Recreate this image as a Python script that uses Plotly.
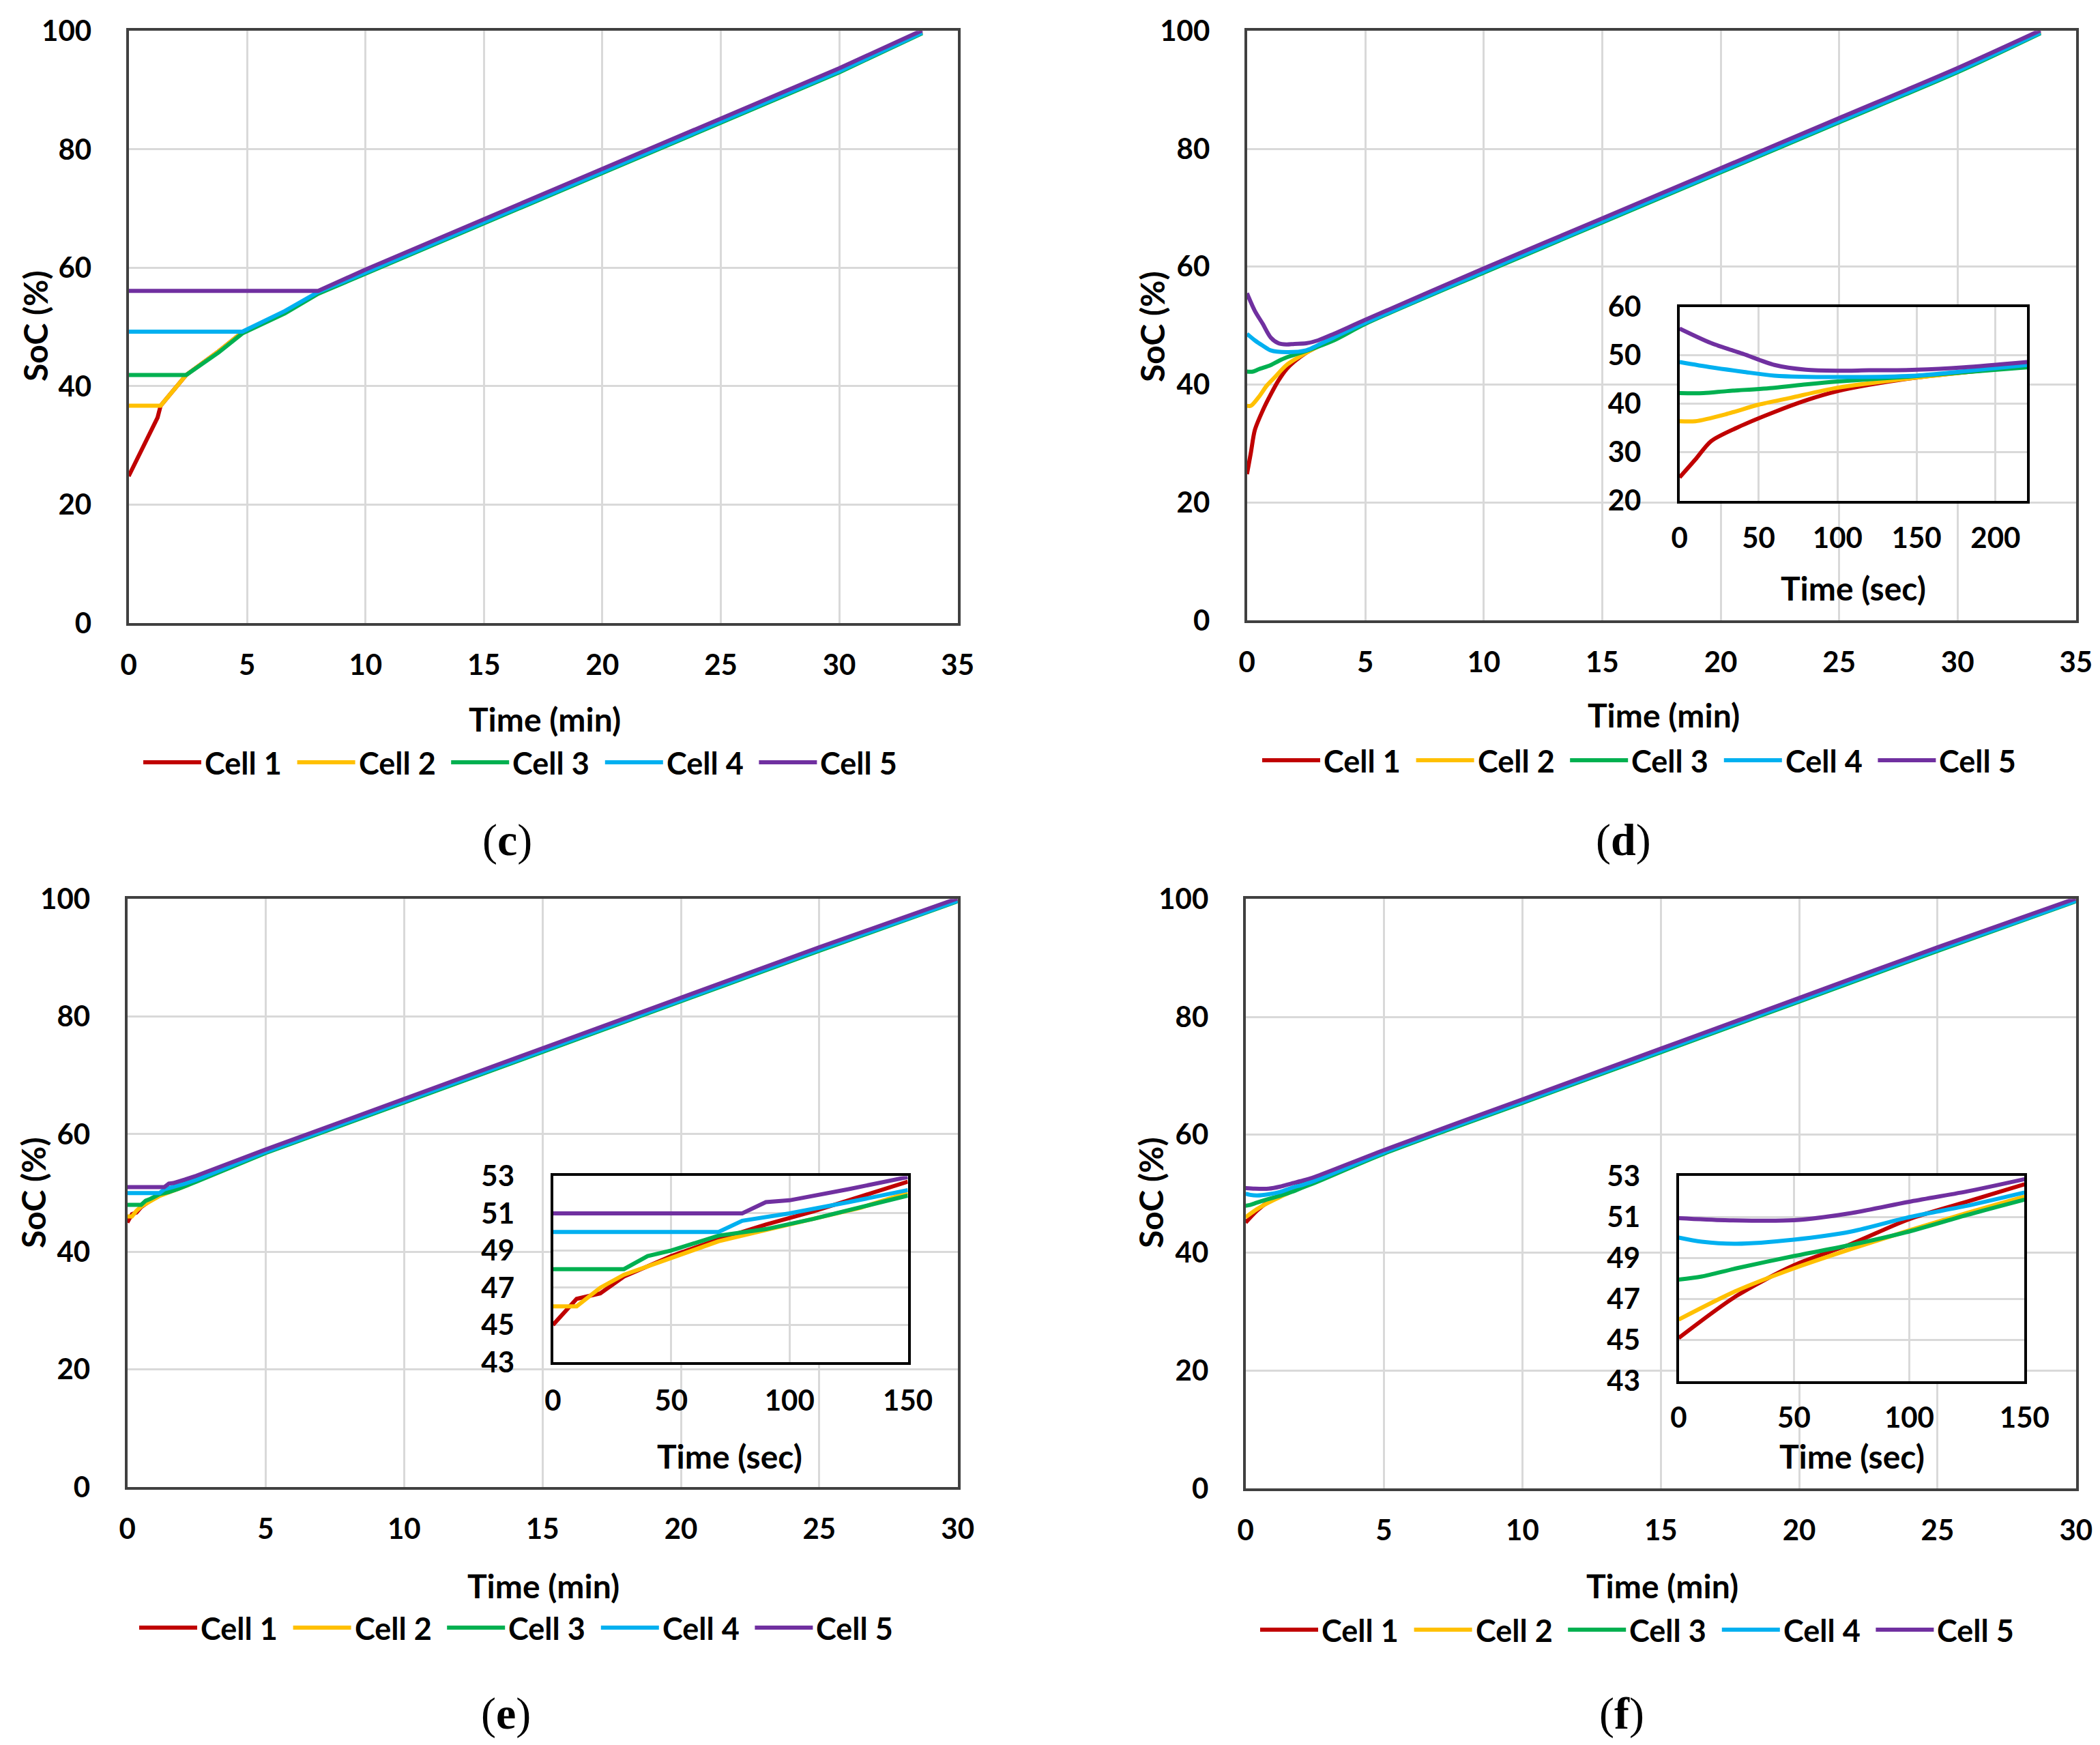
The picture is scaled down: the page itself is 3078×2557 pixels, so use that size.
import plotly.graph_objects as go

CELLS = ["Cell 1", "Cell 2", "Cell 3", "Cell 4", "Cell 5"]
COLORS = ["#C00000", "#FFC000", "#00B050", "#00B0F0", "#7030A0"]

# ---------------- (c) main: time (min) / SoC (%) ----------------
C_T = [
    [0, 1.22, 1.35, 2.43, 3.8, 4.8, 6.6, 8.0],
    [0, 1.35, 2.43, 3.8, 4.8, 6.6, 8.0],
    [0, 2.43, 3.8, 4.8, 6.6, 8.0],
    [0, 4.8, 6.6, 8.0],
    [0, 8.0],
]
C_Y = [
    [24.8, 34.7, 36.7, 41.9, 45.9, 49.1, 52.5, 55.8],
    [36.7, 36.7, 41.9, 45.9, 49.1, 52.5, 55.8],
    [41.9, 41.9, 45.7, 48.9, 52.3, 55.6],
    [49.2, 49.2, 52.7, 55.9],
    [56.1, 56.1],
]
C_TAIL_T = [10, 15, 20, 25, 30, 33.5]
C_TAIL_Y = [
    [59.3, 67.8, 76.3, 84.8, 93.3, 99.8],
    [59.3, 67.8, 76.3, 84.8, 93.3, 99.8],
    [59.0, 67.5, 76.0, 84.5, 93.0, 99.6],
    [59.2, 67.7, 76.2, 84.7, 93.2, 99.7],
    [59.7, 68.2, 76.7, 85.2, 93.7, 100.1],
]

# ---------------- (d) inset: time (sec) ----------------
D_IN_T = [
    [0, 10, 20, 40, 60, 80, 100, 120, 150, 220],
    [0, 10, 30, 50, 70, 100, 150, 220],
    [0, 15, 30, 60, 80, 100, 150, 220],
    [0, 20, 40, 60, 100, 150, 180, 220],
    [0, 20, 40, 60, 80, 100, 120, 150, 180, 220],
]
D_IN_Y = [
    [24.8, 28.5, 32.3, 35.6, 38.3, 40.7, 42.6, 43.9, 45.4, 47.8],
    [36.4, 36.4, 37.9, 39.8, 41.2, 43.3, 45.4, 47.8],
    [42.2, 42.2, 42.6, 43.3, 44.0, 44.6, 45.7, 47.5],
    [48.6, 47.5, 46.6, 45.8, 45.5, 45.8, 46.7, 48.0],
    [55.5, 52.5, 50.3, 48.0, 47.0, 46.8, 46.9, 47.0, 47.5, 48.6],
]
D_TAIL_T = [5, 10, 15, 20, 25, 30, 33.5]
D_TAIL_Y = [
    [50.5, 59.3, 67.8, 76.3, 84.8, 93.3, 99.8],
    [50.5, 59.3, 67.8, 76.3, 84.8, 93.3, 99.8],
    [50.3, 59.0, 67.5, 76.0, 84.5, 93.0, 99.6],
    [50.5, 59.2, 67.7, 76.2, 84.7, 93.2, 99.7],
    [51.0, 59.7, 68.2, 76.7, 85.2, 93.7, 100.1],
]

# ---------------- (e) inset: time (sec) ----------------
E_IN_T = [
    [0, 10, 20, 30, 50, 70, 90, 110, 130, 150],
    [0, 10, 20, 30, 50, 70, 90, 110, 130, 150],
    [0, 30, 40, 50, 70, 90, 110, 130, 150],
    [0, 70, 80, 90, 100, 125, 150],
    [0, 80, 90, 100, 125, 150],
]
E_IN_Y = [
    [45.0, 46.4, 46.7, 47.6, 48.7, 49.6, 50.4, 51.1, 51.9, 52.7],
    [46.0, 46.0, 47.0, 47.7, 48.6, 49.5, 50.1, 50.7, 51.3, 52.1],
    [48.0, 48.0, 48.7, 49.0, 49.8, 50.15, 50.7, 51.3, 51.95],
    [50.0, 50.0, 50.6, 50.8, 51.0, 51.6, 52.25],
    [51.0, 51.0, 51.6, 51.7, 52.3, 52.95],
]
E_TAIL_T = [5, 10, 15, 20, 25, 30]
E_TAIL_Y = [
    [57.0, 65.6, 74.2, 82.8, 91.4, 99.8],
    [57.0, 65.6, 74.2, 82.8, 91.4, 99.8],
    [56.8, 65.4, 74.0, 82.6, 91.2, 99.6],
    [57.0, 65.6, 74.2, 82.8, 91.4, 99.7],
    [57.4, 66.0, 74.6, 83.2, 91.8, 100.1],
]

# ---------------- (f) inset: time (sec) ----------------
F_IN_T = [
    [0, 25, 50, 75, 100, 125, 150],
    [0, 25, 50, 75, 100, 125, 150],
    [0, 10, 25, 50, 75, 100, 125, 150],
    [0, 10, 25, 50, 75, 100, 125, 150],
    [0, 20, 50, 75, 100, 125, 150],
]
F_IN_Y = [
    [45.1, 47.15, 48.65, 49.7, 50.9, 51.75, 52.6],
    [46.0, 47.4, 48.5, 49.45, 50.35, 51.2, 52.0],
    [47.95, 48.1, 48.5, 49.1, 49.65, 50.3, 51.1, 51.85],
    [50.0, 49.8, 49.7, 49.9, 50.3, 51.0, 51.55, 52.2],
    [50.95, 50.85, 50.85, 51.2, 51.75, 52.25, 52.85],
]
F_TAIL_T = [5, 10, 15, 20, 25, 30]
F_TAIL_Y = [
    [57.0, 65.6, 74.2, 82.8, 91.4, 99.8],
    [57.0, 65.6, 74.2, 82.8, 91.4, 99.8],
    [56.8, 65.4, 74.0, 82.6, 91.2, 99.6],
    [57.0, 65.6, 74.2, 82.8, 91.4, 99.7],
    [57.4, 66.0, 74.6, 83.2, 91.8, 100.1],
]

MAIN_X_MAX = {"c": 35, "d": 35, "e": 30, "f": 30}
Y_MAIN_TICKS = [0, 20, 40, 60, 80, 100]
D_IN_YTICKS = [20, 30, 40, 50, 60]
EF_IN_YTICKS = [43, 45, 47, 49, 51, 53]

# ---------------- layout geometry (pixels of the 3078 x 2557 page) ----------------
W, H = 3078, 2557
FONT = "Lato"
GRID = "#D9D9D9"
LW = 6


def fx(p):
    return p / W


def fy(p):
    return 1 - p / H


MAIN_BOX = {
    "c": ((180.6, 1395.7), (37.3, 904.9)),
    "d": ((1819.7, 3034.8), (37.3, 901.0)),
    "e": ((178.6, 1395.7), (1309.3, 2171.0)),
    "f": ((1817.7, 3034.8), (1309.3, 2173.0)),
}
INSET_BOX = {
    "d": ((2453.8, 2963.2), (441.5, 725.7)),
    "e": ((802.5, 1322.6), (1715.4, 1988.0)),
    "f": ((2452.5, 2959.4), (1715.4, 2015.7)),
}
INSET_FRAME = {
    "d": ((2321.7, 3027.0), (391.0, 891.0)),
    "e": ((670.4, 1387.0), (1664.0, 2163.0)),
    "f": ((2318.5, 3025.0), (1665.5, 2163.0)),
}
MAIN_AX = {"c": 1, "d": 2, "e": 3, "f": 4}
FRAME_AX = {"d": 5, "e": 6, "f": 7}
INSET_AX = {"d": 8, "e": 9, "f": 10}
MAIN_XSTAND = {"c": 22, "d": 22, "e": 22, "f": 22}
INSET_XSTAND = {"d": 15, "e": 17, "f": 14}

fig = go.Figure()


def add_lines(ax, ts, ys, shape="linear"):
    for i in range(5):
        fig.add_trace(go.Scatter(
            x=ts[i], y=ys[i], mode="lines", name=CELLS[i], showlegend=False,
            line=dict(color=COLORS[i], width=LW, shape=shape, smoothing=0.8),
            xaxis="x" if ax == 1 else f"x{ax}", yaxis="y" if ax == 1 else f"y{ax}"))


# main (c)
add_lines(1, [C_T[i] + C_TAIL_T for i in range(5)], [C_Y[i] + C_TAIL_Y[i] for i in range(5)])
# main (d), (e), (f): early part taken from the inset readings (sec -> min)
for key, it, iy, tt, ty, shp in [("d", D_IN_T, D_IN_Y, D_TAIL_T, D_TAIL_Y, "spline"),
                                 ("e", E_IN_T, E_IN_Y, E_TAIL_T, E_TAIL_Y, "linear"),
                                 ("f", F_IN_T, F_IN_Y, F_TAIL_T, F_TAIL_Y, "spline")]:
    add_lines(MAIN_AX[key], [[t / 60 for t in it[i]] + tt for i in range(5)],
              [iy[i] + ty[i] for i in range(5)], shp)
# insets
add_lines(INSET_AX["d"], D_IN_T, D_IN_Y, "spline")
add_lines(INSET_AX["e"], E_IN_T, E_IN_Y, "linear")
add_lines(INSET_AX["f"], F_IN_T, F_IN_Y, "spline")

tickfont = dict(family=FONT, size=42, color="black", weight="bold")
titlefont = dict(family=FONT, size=48, color="black", weight="bold")

axis_common = dict(showgrid=True, gridcolor=GRID, gridwidth=3, zeroline=False, automargin=False,
                   showline=True, mirror=True, ticks="", tickfont=tickfont, fixedrange=True)

layout = dict(width=W, height=H, margin=dict(l=0, r=0, t=0, b=0, autoexpand=False),
              paper_bgcolor="white", plot_bgcolor="white", showlegend=False)

for key, n in MAIN_AX.items():
    (x0, x1), (y0, y1) = MAIN_BOX[key]
    sx = "" if n == 1 else str(n)
    layout[f"xaxis{sx}"] = dict(axis_common, domain=[fx(x0), fx(x1)], range=[0, MAIN_X_MAX[key]],
                                tickmode="linear", tick0=0, dtick=5, anchor=f"y{sx}",
                                linecolor="#404040", linewidth=4, ticklabelstandoff=MAIN_XSTAND[key])
    layout[f"yaxis{sx}"] = dict(axis_common, domain=[fy(y1), fy(y0)], range=[0, 100],
                                tickvals=Y_MAIN_TICKS, anchor=f"x{sx}",
                                linecolor="#404040", linewidth=4, ticklabelstandoff=42)

# white frames around the insets (empty subplots drawn over the main grid)
for key, n in FRAME_AX.items():
    (x0, x1), (y0, y1) = INSET_FRAME[key]
    frame_axis = dict(showgrid=False, zeroline=False, showticklabels=False, ticks="",
                      showline=True, mirror=True, linecolor=GRID, linewidth=3, automargin=False,
                      range=[0, 1], fixedrange=True)
    layout[f"xaxis{n}"] = dict(frame_axis, domain=[fx(x0), fx(x1)], anchor=f"y{n}")
    layout[f"yaxis{n}"] = dict(frame_axis, domain=[fy(y1), fy(y0)], anchor=f"x{n}")

for key, n in INSET_AX.items():
    (x0, x1), (y0, y1) = INSET_BOX[key]
    if key == "d":
        xr, yr, yt = [0, 220], [20, 60], D_IN_YTICKS
    else:
        xr, yr, yt = [0, 150], [43, 53], EF_IN_YTICKS
    layout[f"xaxis{n}"] = dict(axis_common, domain=[fx(x0), fx(x1)], range=xr,
                               tickmode="linear", tick0=0, dtick=50, anchor=f"y{n}",
                               linecolor="black", linewidth=4, ticklabelstandoff=INSET_XSTAND[key])
    layout[f"yaxis{n}"] = dict(axis_common, domain=[fy(y1), fy(y0)], range=yr,
                               tickvals=yt, anchor=f"x{n}",
                               linecolor="black", linewidth=4, ticklabelstandoff=44)

shapes = []
annotations = []

# axis titles
MAIN_XTITLE = {"c": (790, 1045), "d": (2430, 1040), "e": (788, 2315), "f": (2428, 2315)}
MAIN_YTITLE = {"c": (44, 470), "d": (1680, 471), "e": (40, 1740), "f": (1678, 1740)}
INSET_XTITLE = {"d": (2708, 853), "e": (1061, 2125), "f": (2706, 2125)}
for key in MAIN_AX:
    x, y = MAIN_XTITLE[key]
    annotations.append(dict(text="Time (min)", x=fx(x), y=fy(y), xref="paper", yref="paper",
                            showarrow=False, font=titlefont, xanchor="center", yanchor="middle"))
    x, y = MAIN_YTITLE[key]
    annotations.append(dict(text="SoC (%)", x=fx(x), y=fy(y), xref="paper", yref="paper",
                            showarrow=False, font=titlefont, textangle=-90,
                            xanchor="center", yanchor="middle"))
for key in INSET_AX:
    x, y = INSET_XTITLE[key]
    annotations.append(dict(text="Time (sec)", x=fx(x), y=fy(y), xref="paper", yref="paper",
                            showarrow=False, font=titlefont, xanchor="center", yanchor="middle"))

# legends (drawn below each panel)
LEGEND_POS = {"c": (202, 1109), "d": (1842, 1106), "e": (196, 2377), "f": (1839, 2380)}
STEP = 225.6
for key, (lx, ly) in LEGEND_POS.items():
    for i in range(5):
        x0 = lx + STEP * i
        shapes.append(dict(type="line", xref="paper", yref="paper",
                           x0=fx(x0), x1=fx(x0 + 85), y0=fy(ly), y1=fy(ly),
                           line=dict(color=COLORS[i], width=LW)))
        annotations.append(dict(text=CELLS[i], x=fx(x0 + 88), y=fy(ly + 1), xref="paper", yref="paper",
                                showarrow=False, xanchor="left", yanchor="middle",
                                font=dict(family=FONT, size=45, color="black", weight="bold")))

# panel labels
LABELS = {"c": (735, 1223), "d": (2371, 1223), "e": (733, 2503), "f": (2369, 2503)}
for key, (x, y) in LABELS.items():
    annotations.append(dict(text=f"(<b>{key}</b>)", x=fx(x), y=fy(y), xref="paper", yref="paper",
                            showarrow=False, xanchor="center", yanchor="middle",
                            font=dict(family="Liberation Serif", size=66, color="black")))

layout["shapes"] = shapes
layout["annotations"] = annotations
fig.update_layout(**layout)
fig.write_html("out.html")
